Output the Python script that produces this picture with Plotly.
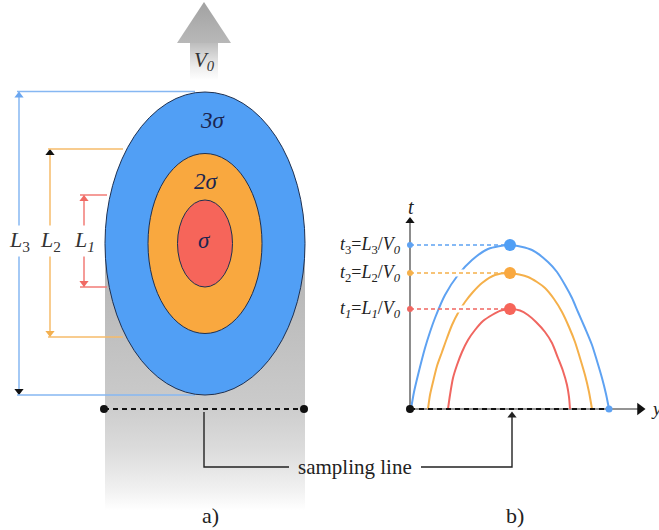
import numpy as np
import plotly.graph_objects as go

W, H = 659, 530
SERIF = "Liberation Serif, Times New Roman, serif"
INK = "#222222"

# ---------------- panel a: nested dispersion ellipses ----------------
SIGMA_LABELS = ["σ", "2σ", "3σ"]
ELLIPSE_RX = [27.5, 57, 100]
ELLIPSE_RY = [43.5, 90, 151.5]
SIGMA_TEXT_X = [-1, 1, 8]
SIGMA_TEXT_Y = [3.5, 62.5, 123.5]

FILL_COLORS = ["#f6655a", "#f9a83f", "#519ff5"]
CURVE_COLORS = ["#f06660", "#f5b04a", "#5ea2f2"]
DIM_COLORS = ["#f27b76", "#f6bb6a", "#86b7f2"]

# length markers L1..L3: vertical extent and position
L_LABELS = ["<i>L</i><sub><i>1</i></sub>", "<i>L</i><sub>2</sub>", "<i>L</i><sub>3</sub>"]
L_TOP = [48.5, 94.5, 152]
L_BOTTOM = [-43.5, -93.5, -151.5]
L_X = [-121, -155, -186]
L_TICK_LEFT = [-125, -157, -188]
L_TICK_RIGHT = [-98, -82, -10]
L_LABEL_Y = 2.5
# arrowhead colours (bottom, top) of each marker
L_HEAD_COLORS = [["#f06a64", "#f06a64"], ["#f3b050", "#111111"], ["#111111", "#6aa6f0"]]

SAMPLING_Y = -165.5
SAMPLING_X = [-101, 99]

# ---------------- panel b: travel-time curves ----------------
CURVE1_Y = [38, 40, 43, 47, 52, 58, 65, 73, 82, 91, 100,
            110, 118, 126, 135, 142, 148, 153, 157, 159, 160]
CURVE1_T = [0, 14, 31, 44, 57, 69, 79, 88, 94, 98.5, 100,
            98.5, 94, 87, 77, 66, 51, 38, 24, 12, 0]
CURVE2_Y = [18, 20, 23, 27, 32, 37, 42, 48, 55, 63, 72, 85, 100,
            118, 127, 135, 144, 152, 159, 165, 170, 175, 179, 182]
CURVE2_T = [0, 14, 27, 43, 57, 71, 84, 96, 107, 117, 126, 134, 136,
            132, 127, 121, 110, 97, 82, 67, 51, 34, 17, 0]
CURVE3_Y = [1, 4, 8, 15, 20, 25, 35, 48, 62, 78, 100,
            122, 138, 147, 155, 162, 168, 175, 182, 187, 192, 196, 199]
CURVE3_T = [0, 17, 34, 61, 77, 91, 114, 134, 149, 160, 164,
            159, 147, 137, 124, 111, 97, 81, 64, 48, 31, 15, 0]
APEX_Y = [100, 100, 100]
APEX_T = [100, 136, 164]
T_LABELS = [
    "<i>t</i><sub><i>1</i></sub>=<i>L</i><sub><i>1</i></sub>/<i>V</i><sub><i>0</i></sub>",
    "<i>t</i><sub>2</sub>=<i>L</i><sub>2</sub>/<i>V</i><sub><i>0</i></sub>",
    "<i>t</i><sub>3</sub>=<i>L</i><sub>3</sub>/<i>V</i><sub><i>0</i></sub>",
]
CURVES = [(CURVE1_Y, CURVE1_T), (CURVE2_Y, CURVE2_T), (CURVE3_Y, CURVE3_T)]

fig = go.Figure()
A = dict(xaxis="x", yaxis="y", hoverinfo="skip")
B = dict(xaxis="x2", yaxis="y2", hoverinfo="skip")

# grey wake below the ellipses
fig.add_trace(go.Scatter(
    x=[-100, 100, 100, -100, -100], y=[0, 0, -266.5, -266.5, 0],
    fill="toself", mode="none",
    fillgradient=dict(type="vertical", colorscale=[
        [0, "#ffffff"], [0.075, "#f1f1f1"], [0.225, "#dcdcdc"],
        [0.41, "#cacaca"], [1, "#b2b2b2"]]), **A))

# velocity arrow at the top
fig.add_trace(go.Scatter(
    x=[-15, 13, 13, -15, -15], y=[200.5, 200.5, 163, 163, 200.5],
    fill="toself", mode="none",
    fillgradient=dict(type="vertical", colorscale=[[0, "#ffffff"], [0.35, "#eeeeee"], [1, "#bdbdbd"]]), **A))
fig.add_trace(go.Scatter(
    x=[-28, 26, -1, -28], y=[200.5, 200.5, 241.5, 200.5],
    fill="toself", mode="none",
    fillgradient=dict(type="vertical", colorscale=[[0, "#b8b8b8"], [1, "#a2a2a2"]]), **A))

# length markers with arrowheads at both ends
for i in range(3):
    fig.add_trace(go.Scatter(x=[L_X[i], L_X[i]], y=[L_BOTTOM[i], L_TOP[i]], mode="lines",
                             line=dict(color=DIM_COLORS[i], width=1.5), **A))
    fig.add_trace(go.Scatter(x=[L_X[i], L_X[i]], y=[L_BOTTOM[i] + 4, L_TOP[i] - 4], mode="markers",
                             marker=dict(symbol=["triangle-down", "triangle-up"], size=8,
                                         color=L_HEAD_COLORS[i], line=dict(width=0)), **A))

# sampling line in panel a
fig.add_trace(go.Scatter(x=SAMPLING_X, y=[SAMPLING_Y] * 2, mode="lines+markers",
                         line=dict(color="#111111", width=2, dash="5px,4px"),
                         marker=dict(size=8, color="#111111"), **A))

# leader from both sampling lines to the label
fig.add_trace(go.Scatter(x=[-1, -1, 84], y=[-168.5, -223.5, -223.5], mode="lines",
                         line=dict(color=INK, width=1.4), **A))
fig.add_trace(go.Scatter(x=[216, 307, 307], y=[-223.5, -223.5, -172], mode="lines",
                         line=dict(color=INK, width=1.4), **A))
fig.add_trace(go.Scatter(x=[307], y=[-172], mode="markers",
                         marker=dict(symbol="triangle-up", size=8, color=INK), **A))

# panel b axes
fig.add_trace(go.Scatter(x=[0, 0], y=[0, 186], mode="lines",
                         line=dict(color="#707070", width=1.6), **B))
fig.add_trace(go.Scatter(x=[0, 228], y=[0, 0], mode="lines",
                         line=dict(color="#707070", width=1.6), **B))
fig.add_trace(go.Scatter(x=[0], y=[188], mode="markers",
                         marker=dict(symbol="triangle-up", size=8, color="#111111"), **B))
fig.add_trace(go.Scatter(x=[230], y=[0], mode="markers",
                         marker=dict(symbol="triangle-right", size=11, color="#111111"), **B))

# curves
for i, (yy, tt) in enumerate(CURVES):
    fig.add_trace(go.Scatter(x=yy, y=tt, mode="lines",
                             line=dict(color=CURVE_COLORS[i], width=2, shape="spline", smoothing=0.7), **B))

# white halo where a guide crosses the next larger curve
for i in range(2):
    yy, tt = CURVES[i + 1]
    k = int(np.argmax(tt))
    xc = float(np.interp(APEX_T[i], tt[:k + 1], yy[:k + 1]))
    fig.add_trace(go.Scatter(x=[xc - 4, xc + 4], y=[APEX_T[i]] * 2, mode="lines",
                             line=dict(color="white", width=7), **B))

# dashed guides from t axis to apex
for i in range(3):
    fig.add_trace(go.Scatter(x=[0, APEX_Y[i]], y=[APEX_T[i]] * 2, mode="lines",
                             line=dict(color=CURVE_COLORS[i], width=1.3, dash="4px,3px"), **B))

# baseline sampling line
fig.add_trace(go.Scatter(x=[0, 200], y=[0, 0], mode="lines",
                         line=dict(color="#111111", width=2, dash="5px,4px"), **B))
# markers
fig.add_trace(go.Scatter(x=[0] * 3, y=APEX_T, mode="markers",
                         marker=dict(size=6, color=CURVE_COLORS), **B))
fig.add_trace(go.Scatter(x=APEX_Y, y=APEX_T, mode="markers",
                         marker=dict(size=12, color=FILL_COLORS), **B))
fig.add_trace(go.Scatter(x=[CURVE3_Y[-1]], y=[0], mode="markers",
                         marker=dict(size=7, color=CURVE_COLORS[2]), **B))
fig.add_trace(go.Scatter(x=[0], y=[0], mode="markers",
                         marker=dict(size=8, color="#111111"), **B))

# ---------------- shapes: tick lines and ellipses ----------------
shapes = []
for i in range(3):
    for yv in (L_TOP[i], L_BOTTOM[i]):
        shapes.append(dict(type="line", xref="x", yref="y", x0=L_TICK_LEFT[i], x1=L_TICK_RIGHT[i],
                           y0=yv, y1=yv, line=dict(color=DIM_COLORS[i], width=1.5)))
for i in (2, 1, 0):
    shapes.append(dict(type="circle", xref="x", yref="y",
                       x0=-ELLIPSE_RX[i], x1=ELLIPSE_RX[i], y0=-ELLIPSE_RY[i], y1=ELLIPSE_RY[i],
                       fillcolor=FILL_COLORS[i], line=dict(color="#1e3050", width=1)))

# ---------------- text ----------------
ann = []
for i in range(3):
    ann.append(dict(x=L_X[i], y=L_LABEL_Y, xref="x", yref="y", text=L_LABELS[i], showarrow=False,
                    bgcolor="white", font=dict(family=SERIF, size=22, color="#333333")))
    ann.append(dict(x=SIGMA_TEXT_X[i], y=SIGMA_TEXT_Y[i], xref="x", yref="y",
                    text="<i>" + SIGMA_LABELS[i] + "</i>", showarrow=False,
                    font=dict(family=SERIF, size=23, color="#1b2550")))

ann.append(dict(x=-1, y=183, xref="x", yref="y", text="<i>V</i><sub><i>0</i></sub>", showarrow=False,
                font=dict(family=SERIF, size=21, color="#333333")))
ann.append(dict(x=150, y=-223.5, xref="x", yref="y", text="sampling line", showarrow=False,
                font=dict(family=SERIF, size=21, color=INK)))
ann.append(dict(x=5, y=-271.5, xref="x", yref="y", text="a)", showarrow=False,
                font=dict(family=SERIF, size=22, color=INK)))
ann.append(dict(x=310, y=-271.5, xref="x", yref="y", text="b)", showarrow=False,
                font=dict(family=SERIF, size=22, color=INK)))

ann.append(dict(x=1, y=202, xref="x2", yref="y2", text="<i>t</i>", showarrow=False,
                font=dict(family=SERIF, size=20, color=INK)))
ann.append(dict(x=239, y=1, xref="x2", yref="y2", text="<i>y</i>", showarrow=False, xanchor="left",
                font=dict(family=SERIF, size=19, color=INK)))
for i in range(3):
    ann.append(dict(x=-7, y=APEX_T[i], xref="x2", yref="y2", text=T_LABELS[i], showarrow=False,
                    xanchor="right", font=dict(family=SERIF, size=18, color=INK)))

fig.update_layout(
    width=W, height=H, margin=dict(l=0, r=0, t=0, b=0),
    paper_bgcolor="white", plot_bgcolor="white", showlegend=False,
    shapes=shapes, annotations=ann,
    xaxis=dict(range=[-205, 454], visible=False, fixedrange=True),
    yaxis=dict(range=[-286.5, 243.5], visible=False, fixedrange=True),
    xaxis2=dict(range=[-410, 249], visible=False, overlaying="x", fixedrange=True),
    yaxis2=dict(range=[-121, 409], visible=False, overlaying="y", fixedrange=True),
)

fig.write_html("out.html")
